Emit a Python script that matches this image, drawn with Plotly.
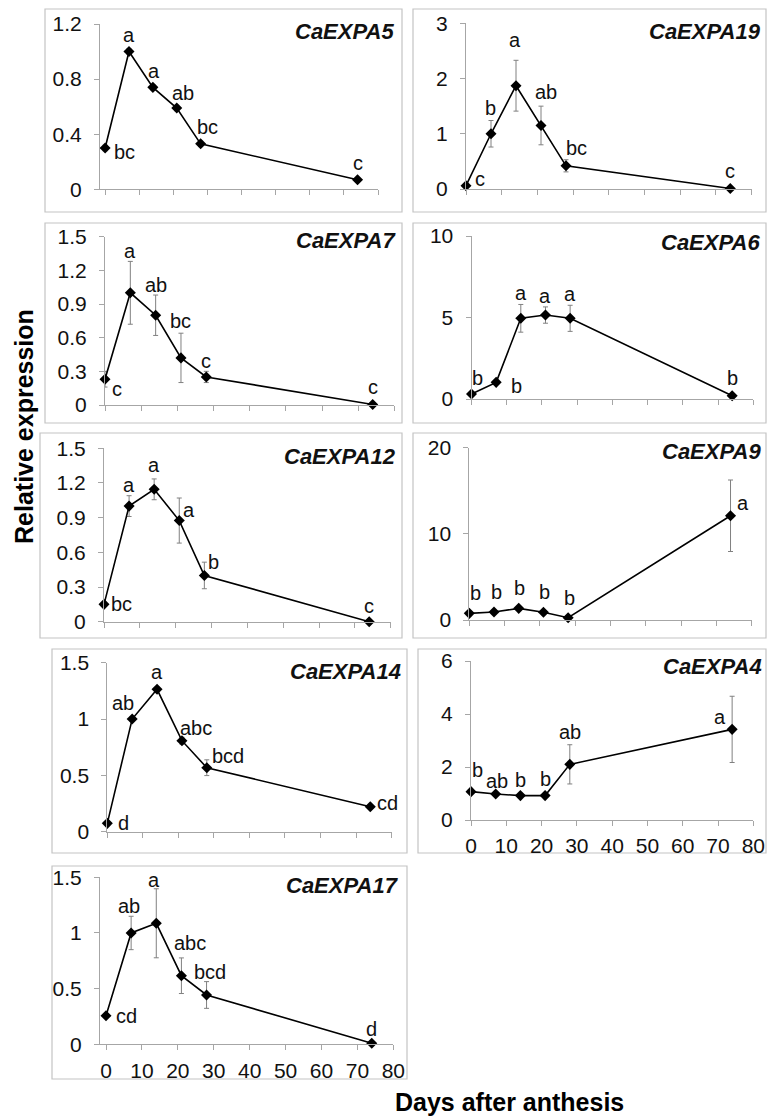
import plotly.graph_objects as go

# ---------------- data ----------------
days = [0, 7, 14, 21, 28, 74]
x_ticks = [0, 10, 20, 30, 40, 50, 60, 70, 80]

genes = ["CaEXPA5", "CaEXPA19", "CaEXPA7", "CaEXPA6", "CaEXPA12",
         "CaEXPA9", "CaEXPA14", "CaEXPA4", "CaEXPA17"]

expa5_mean = [0.30, 1.00, 0.74, 0.59, 0.33, 0.07]
expa5_err = [0.02, 0.02, 0.02, 0.02, 0.02, 0.01]
expa5_sig = ["bc", "a", "a", "ab", "bc", "c"]

expa19_mean = [0.06, 1.00, 1.87, 1.15, 0.42, 0.01]
expa19_err = [0.03, 0.24, 0.46, 0.35, 0.11, 0.01]
expa19_sig = ["c", "b", "a", "ab", "bc", "c"]

expa7_mean = [0.23, 1.00, 0.80, 0.42, 0.25, 0.005]
expa7_err = [0.07, 0.28, 0.18, 0.22, 0.05, 0.003]
expa7_sig = ["c", "a", "ab", "bc", "c", "c"]

expa6_mean = [0.31, 1.02, 4.95, 5.15, 4.95, 0.20]
expa6_err = [0.05, 0.10, 0.85, 0.50, 0.80, 0.05]
expa6_sig = ["b", "b", "a", "a", "a", "b"]

expa12_mean = [0.15, 1.00, 1.145, 0.875, 0.40, 0.0]
expa12_err = [0.02, 0.09, 0.09, 0.195, 0.115, 0.005]
expa12_sig = ["bc", "a", "a", "a", "b", "c"]

expa9_mean = [0.77, 0.93, 1.35, 0.89, 0.27, 12.1]
expa9_err = [0.10, 0.10, 0.10, 0.10, 0.05, 4.15]
expa9_sig = ["b", "b", "b", "b", "b", "a"]

expa14_mean = [0.074, 1.00, 1.264, 0.808, 0.568, 0.222]
expa14_err = [0.01, 0.02, 0.02, 0.03, 0.07, 0.01]
expa14_sig = ["d", "ab", "a", "abc", "bcd", "cd"]

expa4_mean = [1.07, 0.98, 0.92, 0.92, 2.10, 3.42]
expa4_err = [0.05, 0.05, 0.05, 0.05, 0.74, 1.25]
expa4_sig = ["b", "ab", "b", "b", "ab", "a"]

expa17_mean = [0.257, 1.00, 1.087, 0.616, 0.443, 0.01]
expa17_err = [0.01, 0.15, 0.31, 0.16, 0.12, 0.005]
expa17_sig = ["cd", "ab", "a", "abc", "bcd", "d"]

y_ticks_5 = [0, 0.4, 0.8, 1.2]
y_ticks_19 = [0, 1, 2, 3]
y_ticks_7 = [0, 0.3, 0.6, 0.9, 1.2, 1.5]
y_ticks_6 = [0, 5, 10]
y_ticks_12 = [0, 0.3, 0.6, 0.9, 1.2, 1.5]
y_ticks_9 = [0, 10, 20]
y_ticks_14 = [0, 0.5, 1, 1.5]
y_ticks_4 = [0, 2, 4, 6]
y_ticks_17 = [0, 0.5, 1, 1.5]

means = [expa5_mean, expa19_mean, expa7_mean, expa6_mean, expa12_mean,
         expa9_mean, expa14_mean, expa4_mean, expa17_mean]
errs = [expa5_err, expa19_err, expa7_err, expa6_err, expa12_err,
        expa9_err, expa14_err, expa4_err, expa17_err]
sigs = [expa5_sig, expa19_sig, expa7_sig, expa6_sig, expa12_sig,
        expa9_sig, expa14_sig, expa4_sig, expa17_sig]
yticks = [y_ticks_5, y_ticks_19, y_ticks_7, y_ticks_6, y_ticks_12,
          y_ticks_9, y_ticks_14, y_ticks_4, y_ticks_17]

# ---------------- layout (pixels) ----------------
W, H = 767, 1116
geom = [
    dict(xp=(100, 378), yp=(189.3, 24.0), x0=-1.5, box=(45, 9, 402, 212), title=(396, 31)),
    dict(xp=(466, 751.7), yp=(189.0, 23.3), x0=0, box=(413, 9, 766, 212), title=(763, 31)),
    dict(xp=(105, 394.4), yp=(405.0, 236.7), x0=0, box=(45, 223, 402, 423), title=(398, 241)),
    dict(xp=(471.5, 753.3), yp=(399.0, 236.0), x0=0, box=(413, 223, 766, 423), title=(762, 242)),
    dict(xp=(104, 390.7), yp=(621.7, 448.3), x0=0, box=(40, 433, 402, 638), title=(398, 456)),
    dict(xp=(469.3, 751.7), yp=(620.0, 447.7), x0=0, box=(413, 433, 766, 638), title=(763, 452)),
    dict(xp=(107.3, 391.6), yp=(831.7, 662.7), x0=0, box=(52, 649, 407, 853), title=(403, 671)),
    dict(xp=(471, 753.3), yp=(820.0, 661.0), x0=0, box=(418, 649, 766, 853), title=(764, 666)),
    dict(xp=(100, 393.3), yp=(1044.3, 877.3), x0=-1.67, box=(52, 866, 407, 1079), title=(401, 885)),
]
show_x_labels = [False, False, False, False, False, False, False, True, True]

# letter label offsets (dx px, dy px up, base: 'm' marker / 'e' error top)
sig_pos = [
    [(19, -4, 'm'), (0, 17, 'm'), (1, 16, 'm'), (6, 15, 'm'), (7, 17, 'm'), (0, 17, 'm')],
    [(14, 7, 'm'), (-1, 13, 'e'), (-1, 20, 'e'), (5, 14, 'e'), (10, 12, 'e'), (0, 17, 'm')],
    [(12, -10, 'm'), (0, 10, 'e'), (0, 10, 'e'), (0, 12, 'e'), (0, 16, 'm'), (0, 17, 'm')],
    [(6, 16, 'm'), (20, -4, 'm'), (0, 11, 'e'), (0, 11, 'e'), (0, 11, 'e'), (0, 18, 'm')],
    [(17, 0, 'm'), (0, 11, 'e'), (0, 14, 'e'), (10, 11, 'm'), (9, 13, 'm'), (0, 16, 'm')],
    [(6, 20, 'm'), (2, 20, 'm'), (1, 20, 'm'), (1, 20, 'm'), (1, 20, 'm'), (12, 13, 'm')],
    [(16, 0, 'm'), (-9, 16, 'm'), (0, 17, 'm'), (14, 13, 'm'), (21, 12, 'm'), (17, 4, 'm')],
    [(7, 22, 'm'), (1, 13, 'm'), (0, 16, 'm'), (0, 17, 'm'), (0, 13, 'e'), (-12, 12, 'm')],
    [(20, 0, 'm'), (-2, 10, 'e'), (-2, 9, 'e'), (9, 15, 'e'), (3, 10, 'e'), (0, 14, 'm')],
]

FONT = "Liberation Sans, Arial, sans-serif"
AXC = "#a6a6a6"
TXT = "#111111"
TICK_SIZE = 21
SIG_SIZE = 20
TITLE_SIZE = 22


def fmt(v):
    return "%g" % v


fig = go.Figure()
layout = dict(
    template="none",
    width=W, height=H, margin=dict(l=0, r=0, t=0, b=0, pad=0, autoexpand=False),
    paper_bgcolor="white", plot_bgcolor="rgba(0,0,0,0)",
    showlegend=False, font=dict(family=FONT, color=TXT),
)
shapes = []
annotations = []

for i in range(9):
    n = i + 1
    g = geom[i]
    xs = "" if n == 1 else str(n)
    fig.add_trace(go.Scatter(
        x=days, y=means[i], mode="lines+markers",
        xaxis="x" + xs, yaxis="y" + xs,
        line=dict(color="black", width=1.6),
        marker=dict(symbol="diamond", size=8.5, color="black"),
        error_y=dict(type="data", array=errs[i], visible=True,
                     color="#808080", thickness=1, width=2.5),
        cliponaxis=False, hoverinfo="skip",
    ))
    ymax = yticks[i][-1]
    layout["xaxis" + xs] = dict(
        domain=[g["xp"][0] / W, g["xp"][1] / W], range=[g["x0"], 80],
        anchor="y" + xs, tickmode="array", tickvals=x_ticks,
        ticktext=[str(v) for v in x_ticks], showticklabels=show_x_labels[i],
        ticks="outside", ticklen=5, tickcolor=AXC, tickwidth=1,
        showline=True, linecolor=AXC, linewidth=1, automargin=False,
        showgrid=False, zeroline=False, ticklabelstandoff=2,
        tickfont=dict(size=TICK_SIZE, family=FONT, color=TXT), fixedrange=True,
    )
    layout["yaxis" + xs] = dict(
        domain=[1 - g["yp"][0] / H, 1 - g["yp"][1] / H], range=[0, ymax],
        anchor="x" + xs, tickmode="array", tickvals=yticks[i],
        ticktext=[fmt(v) for v in yticks[i]],
        ticks="outside", ticklen=5, tickcolor=AXC, tickwidth=1,
        showline=True, linecolor=AXC, linewidth=1, automargin=False,
        showgrid=False, zeroline=False, ticklabelstandoff=8,
        tickfont=dict(size=TICK_SIZE, family=FONT, color=TXT), fixedrange=True,
    )
    bx0, by0, bx1, by1 = g["box"]
    shapes.append(dict(type="rect", xref="paper", yref="paper",
                       x0=bx0 / W, x1=bx1 / W, y0=1 - by1 / H, y1=1 - by0 / H,
                       line=dict(color="#c4c4c4", width=1.2), layer="below"))
    tx, ty = g["title"]
    annotations.append(dict(
        text="<b><i>%s</i></b>" % genes[i], xref="paper", yref="paper",
        x=tx / W, y=1 - ty / H, xanchor="right", yanchor="middle",
        showarrow=False, font=dict(size=TITLE_SIZE, family=FONT, color=TXT)))
    for j, lab in enumerate(sigs[i]):
        dx, dy, base = sig_pos[i][j]
        yv = means[i][j] + (errs[i][j] if base == 'e' else 0)
        annotations.append(dict(
            text=lab, xref="x" + xs, yref="y" + xs, x=days[j], y=yv,
            xshift=dx, yshift=dy, xanchor="center", yanchor="middle",
            showarrow=False, font=dict(size=SIG_SIZE, family=FONT, color=TXT)))

annotations.append(dict(
    text="<b>Relative expression</b>", xref="paper", yref="paper",
    x=24 / W, y=1 - 427 / H, xanchor="center", yanchor="middle", textangle=-90,
    showarrow=False, font=dict(size=25, family=FONT, color="black")))
annotations.append(dict(
    text="<b>Days after anthesis</b>", xref="paper", yref="paper",
    x=509.5 / W, y=1 - 1102 / H, xanchor="center", yanchor="middle",
    showarrow=False, font=dict(size=25, family=FONT, color="black")))

layout["shapes"] = shapes
layout["annotations"] = annotations
fig.update_layout(**layout)
fig.write_html(
    "out.html", config={"displayModeBar": False},
    post_script="document.body.style.margin='0px';document.body.style.padding='0px';document.body.style.overflow='hidden';",
)
